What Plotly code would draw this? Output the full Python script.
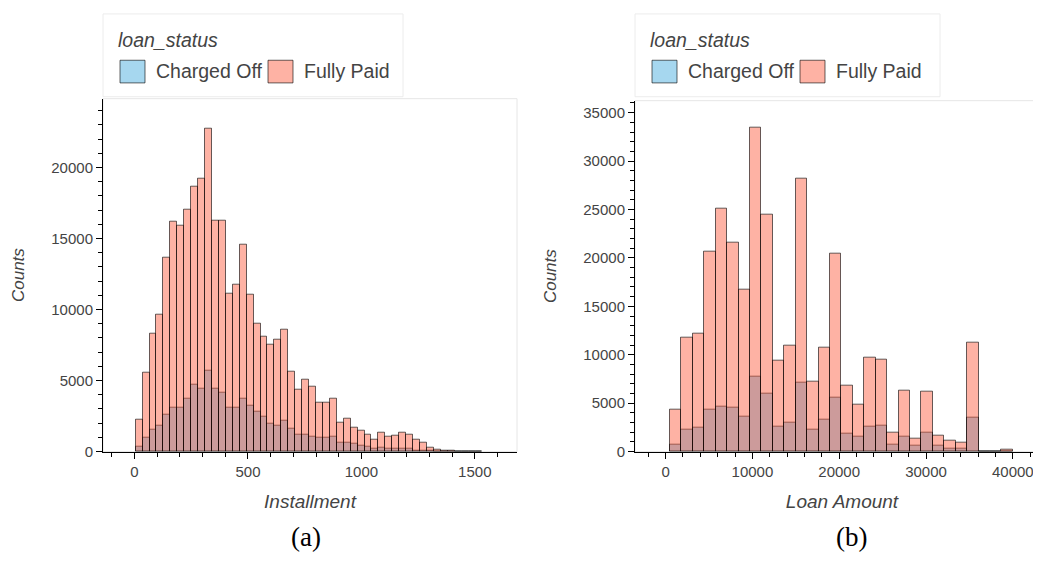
import numpy as np
import plotly.graph_objects as go

W, H = 1041, 561
PAGE_OFFSET = 8  # default body margin of the html page

# ---------------- data ----------------
status_labels = ["Charged Off", "Fully Paid"]
legend_title = "loan_status"

installment_range = (4.93, 1533.81)
installment_bins = 50
installment_charged_off = [
    330, 950, 1530, 1830, 2570, 3100, 3100, 3700, 4720, 4440,
    5690, 4440, 4120, 3100, 3100, 3750, 3260, 2820, 2470, 1990,
    1830, 2170, 1600, 1180, 1180, 1060, 950, 950, 1060, 600,
    650, 555, 440, 370, 210, 250, 210, 185, 210, 190,
    90, 60, 30, 12, 8, 5, 3, 2, 1, 1]
installment_fully_paid = [
    2220, 5570, 8300, 9620, 13670, 16170, 15890, 17020, 18670, 19220,
    22770, 16280, 16280, 11150, 11780, 14550, 11060, 8980, 8070, 7560,
    7890, 8580, 5640, 4350, 5040, 4600, 3420, 3440, 3700, 2010,
    2330, 1710, 1480, 1200, 830, 1300, 1020, 1110, 1320, 1200,
    850, 650, 300, 110, 60, 40, 25, 15, 8, 5]

loan_amount_range = (500, 40000)
loan_amount_bins = 30
loan_amount_charged_off = [
    670, 2300, 2440, 4300, 4640, 4580, 3620, 7730, 6030, 2540,
    2980, 7120, 2300, 3280, 5520, 1900, 1520, 2540, 2640, 740,
    1590, 610, 1960, 610, 340, 340, 3490, 0, 0, 40]
loan_amount_fully_paid = [
    4330, 11760, 12130, 20680, 25080, 21590, 16680, 33460, 24510, 9420,
    10910, 28200, 7180, 10740, 20400, 6840, 4810, 9660, 9490, 1930,
    6340, 1350, 6230, 1690, 1120, 950, 11250, 0, 0, 160]

installment_ticks = [0, 500, 1000, 1500]
loan_amount_ticks = [0, 10000, 20000, 30000, 40000]
counts_ticks_a = [0, 5000, 10000, 15000, 20000]
counts_ticks_b = [0, 5000, 10000, 15000, 20000, 25000, 30000, 35000]

# ---------------- styles ----------------
fill = {"Charged Off": "rgba(48,162,218,0.43)", "Fully Paid": "rgba(252,79,48,0.44)"}
outline = "rgba(0,0,0,0.6)"
tick_color = "#444"
FONT = "Liberation Sans, Arial, sans-serif"


def hist_trace(rng, nbins, counts, name, xa, ya):
    edges = np.linspace(rng[0], rng[1], nbins + 1)
    centers = (edges[:-1] + edges[1:]) / 2
    width = edges[1] - edges[0]
    return go.Bar(
        x=centers, y=counts, width=width, name=name,
        marker=dict(color=fill[name], line=dict(color=outline, width=1)),
        xaxis=xa, yaxis=ya, showlegend=False,
        hovertemplate=name + "<br>%{x}<br>%{y}<extra></extra>",
    )


fig = go.Figure()
fig.add_trace(hist_trace(installment_range, installment_bins, installment_charged_off, "Charged Off", "x", "y"))
fig.add_trace(hist_trace(installment_range, installment_bins, installment_fully_paid, "Fully Paid", "x", "y"))
fig.add_trace(hist_trace(loan_amount_range, loan_amount_bins, loan_amount_charged_off, "Charged Off", "x2", "y2"))
fig.add_trace(hist_trace(loan_amount_range, loan_amount_bins, loan_amount_fully_paid, "Fully Paid", "x2", "y2"))


def px(x):
    return (x - PAGE_OFFSET) / W


def py(y):
    return 1 - (y - PAGE_OFFSET) / H


def xaxis_style(domain, rng, ticks, minor_dtick, title, anchor):
    return dict(
        domain=domain, range=rng, anchor=anchor,
        showline=True, linecolor="black", linewidth=1,
        ticks="outside", ticklen=6, tickcolor="black", tickwidth=1,
        tickvals=ticks, ticktext=[str(t) for t in ticks],
        ticklabeloverflow="allow",
        minor=dict(dtick=minor_dtick, tick0=0, ticks="outside", ticklen=4, tickcolor="black", tickwidth=1),
        showgrid=False, zeroline=False,
        tickfont=dict(family=FONT, size=15, color=tick_color),
        title=dict(text=title, standoff=16, font=dict(family=FONT, size=19, color=tick_color, style="italic")),
        fixedrange=True,
    )


def yaxis_style(domain, rng, ticks, title, anchor):
    return dict(
        domain=domain, range=rng, anchor=anchor,
        showline=True, linecolor="black", linewidth=1,
        ticks="outside", ticklen=6, tickcolor="black", tickwidth=1,
        tickvals=ticks, ticktext=[str(t) for t in ticks],
        minor=dict(dtick=1000, tick0=0, ticks="outside", ticklen=4, tickcolor="black", tickwidth=1),
        showgrid=False, zeroline=False,
        tickfont=dict(family=FONT, size=15, color=tick_color),
        title=dict(text=title, standoff=22, font=dict(family=FONT, size=17, color=tick_color, style="italic")),
        fixedrange=True,
    )


fig.update_layout(
    width=W, height=H,
    margin=dict(l=0, r=0, t=0, b=0),
    paper_bgcolor="white", plot_bgcolor="white",
    barmode="overlay", bargap=0,
    showlegend=False,
    xaxis=xaxis_style([px(103), px(517)], [-139, 1686], installment_ticks, 100, "Installment", "y"),
    yaxis=yaxis_style([py(458), py(100)], [0, 24850], counts_ticks_a, "Counts", "x"),
    xaxis2=xaxis_style([px(635), 1.0], [-3525, 44170], loan_amount_ticks, 2000, "Loan Amount", "y2"),
    yaxis2=yaxis_style([py(458), py(102)], [0, 36240], counts_ticks_b, "Counts", "x2"),
)

shapes = []
annotations = []

# light plot frame (bokeh-like outline)
for xr, yr in (("x domain", "y domain"), ("x2 domain", "y2 domain")):
    shapes.append(dict(type="rect", xref=xr, yref=yr, x0=0, x1=1, y0=0, y1=1,
                       line=dict(color="#e6e6e6", width=1), layer="below"))

# legends above each panel
for off, right in ((0, 403), (532, 940)):
    shapes.append(dict(type="rect", xref="paper", yref="paper",
                       x0=px(103 + off), x1=px(right), y0=py(98), y1=py(14),
                       line=dict(color="#ececec", width=1), fillcolor="white", layer="below"))
    annotations.append(dict(xref="paper", yref="paper", x=px(116 + off), y=py(40),
                            xanchor="left", yanchor="middle", showarrow=False, text=legend_title,
                            font=dict(family=FONT, size=19.5, color=tick_color, style="italic")))
    for name, sx, tx in ((status_labels[0], 120, 154), (status_labels[1], 268, 302)):
        shapes.append(dict(type="rect", xref="paper", yref="paper",
                           x0=px(sx + off), x1=px(sx + 25 + off), y0=py(84), y1=py(61),
                           line=dict(color=outline, width=1), fillcolor=fill[name]))
        annotations.append(dict(xref="paper", yref="paper", x=px(tx + off), y=py(72),
                                xanchor="left", yanchor="middle", showarrow=False, text=name,
                                font=dict(family=FONT, size=19.5, color=tick_color)))

# panel captions
for cap, cx in (("(a)", 306), ("(b)", 851)):
    annotations.append(dict(xref="paper", yref="paper", x=px(cx), y=py(545),
                            xanchor="center", yanchor="middle", showarrow=False, text=cap,
                            font=dict(family="Liberation Serif, Times New Roman, serif", size=27, color="black")))

fig.update_layout(shapes=shapes, annotations=annotations)

fig.write_html("out.html")
